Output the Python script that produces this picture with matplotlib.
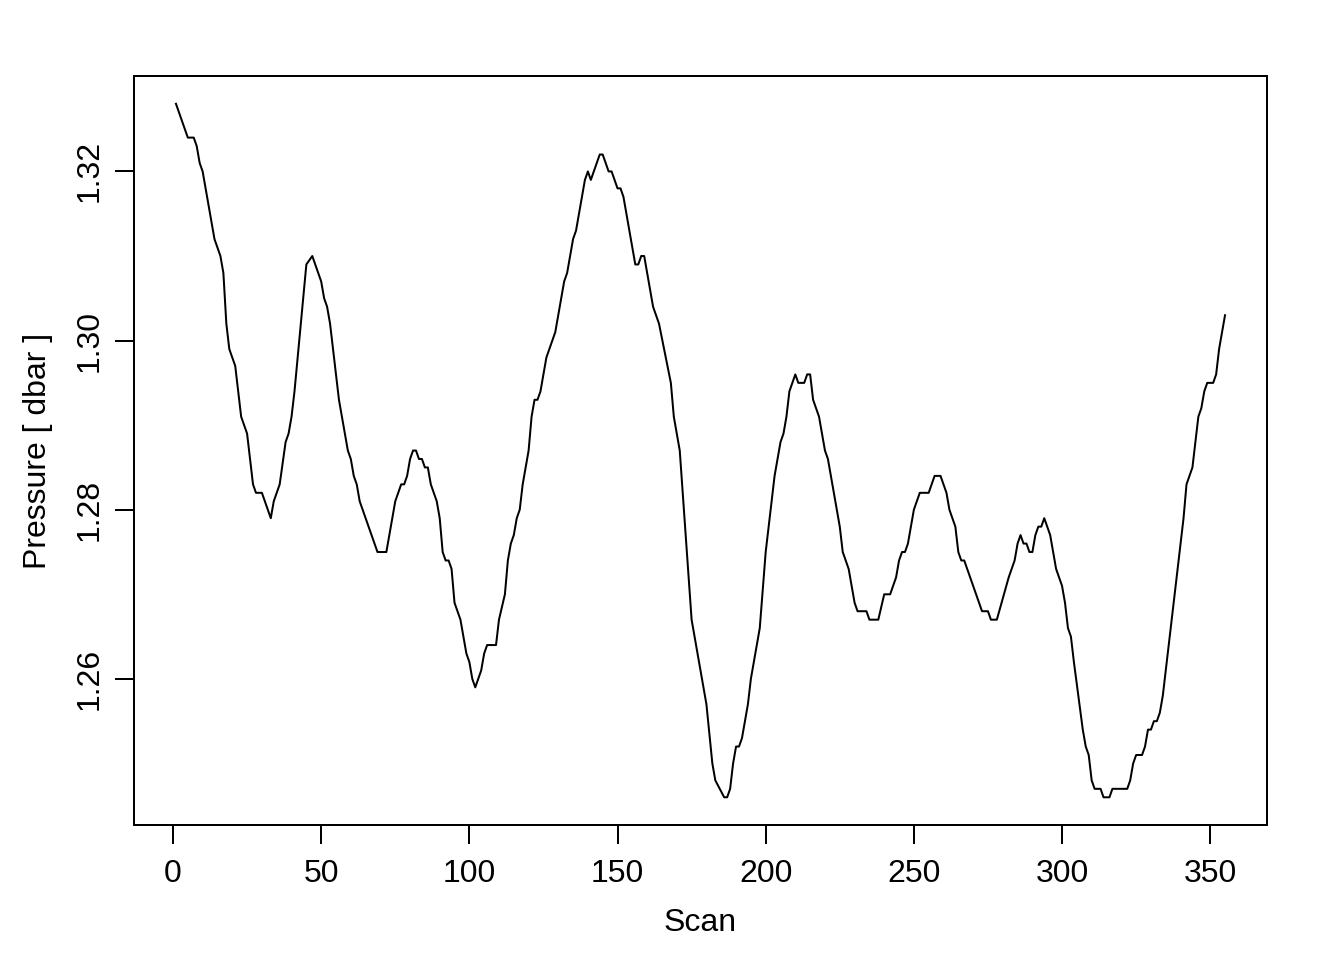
import matplotlib
matplotlib.use("Agg")
import matplotlib.pyplot as plt

# scan number and pressure (vertices of the line)
scan = [1, 5, 7, 8, 9, 10, 14, 16, 17, 18, 19, 21, 23, 25, 27, 28, 30, 33, 34, 36,
        38, 39, 40, 41, 45, 47, 50, 51, 52, 53, 56, 59, 60, 61, 62, 63, 69, 72, 75, 77,
        78, 79, 80, 81, 82, 83, 84, 85, 86, 87, 88, 89, 90, 91, 92, 93, 94, 95, 96, 97,
        99, 100, 101, 102, 104, 105, 106, 109, 110, 112, 113, 114, 115, 116, 117, 118, 120, 121, 122, 123,
        124, 126, 127, 129, 132, 133, 135, 136, 139, 140, 141, 144, 145, 147, 148, 150, 151, 152, 156, 157,
        158, 159, 162, 164, 168, 169, 171, 175, 177, 180, 182, 183, 186, 187, 188, 189, 190, 191, 192, 194,
        195, 198, 200, 201, 203, 205, 206, 207, 208, 210, 211, 213, 214, 215, 216, 217, 218, 220, 221, 225,
        226, 228, 230, 231, 234, 235, 238, 240, 242, 243, 244, 245, 246, 247, 248, 250, 252, 255, 257, 259,
        261, 262, 264, 265, 266, 267, 273, 275, 276, 278, 282, 284, 285, 286, 287, 288, 289, 290, 291, 292,
        293, 294, 295, 296, 298, 300, 301, 302, 303, 304, 307, 308, 309, 310, 311, 313, 314, 316, 317, 322,
        323, 324, 325, 327, 328, 329, 330, 331, 332, 333, 334, 335, 340, 341, 342, 344, 346, 347, 348, 349,
        351, 352, 353, 355]
pressure = [1.328, 1.324, 1.324, 1.323, 1.321, 1.320, 1.312, 1.310, 1.308, 1.302, 1.299, 1.297, 1.291, 1.289, 1.283, 1.282, 1.282, 1.279, 1.281, 1.283,
            1.288, 1.289, 1.291, 1.294, 1.309, 1.310, 1.307, 1.305, 1.304, 1.302, 1.293, 1.287, 1.286, 1.284, 1.283, 1.281, 1.275, 1.275, 1.281, 1.283,
            1.283, 1.284, 1.286, 1.287, 1.287, 1.286, 1.286, 1.285, 1.285, 1.283, 1.282, 1.281, 1.279, 1.275, 1.274, 1.274, 1.273, 1.269, 1.268, 1.267,
            1.263, 1.262, 1.260, 1.259, 1.261, 1.263, 1.264, 1.264, 1.267, 1.270, 1.274, 1.276, 1.277, 1.279, 1.280, 1.283, 1.287, 1.291, 1.293, 1.293,
            1.294, 1.298, 1.299, 1.301, 1.307, 1.308, 1.312, 1.313, 1.319, 1.320, 1.319, 1.322, 1.322, 1.320, 1.320, 1.318, 1.318, 1.317, 1.309, 1.309,
            1.310, 1.310, 1.304, 1.302, 1.295, 1.291, 1.287, 1.267, 1.263, 1.257, 1.250, 1.248, 1.246, 1.246, 1.247, 1.250, 1.252, 1.252, 1.253, 1.257,
            1.260, 1.266, 1.275, 1.278, 1.284, 1.288, 1.289, 1.291, 1.294, 1.296, 1.295, 1.295, 1.296, 1.296, 1.293, 1.292, 1.291, 1.287, 1.286, 1.278,
            1.275, 1.273, 1.269, 1.268, 1.268, 1.267, 1.267, 1.270, 1.270, 1.271, 1.272, 1.274, 1.275, 1.275, 1.276, 1.280, 1.282, 1.282, 1.284, 1.284,
            1.282, 1.280, 1.278, 1.275, 1.274, 1.274, 1.268, 1.268, 1.267, 1.267, 1.272, 1.274, 1.276, 1.277, 1.276, 1.276, 1.275, 1.275, 1.277, 1.278,
            1.278, 1.279, 1.278, 1.277, 1.273, 1.271, 1.269, 1.266, 1.265, 1.262, 1.254, 1.252, 1.251, 1.248, 1.247, 1.247, 1.246, 1.246, 1.247, 1.247,
            1.248, 1.250, 1.251, 1.251, 1.252, 1.254, 1.254, 1.255, 1.255, 1.256, 1.258, 1.261, 1.276, 1.279, 1.283, 1.285, 1.291, 1.292, 1.294, 1.295,
            1.295, 1.296, 1.299, 1.303]

x_ticks = [0, 50, 100, 150, 200, 250, 300, 350]
y_ticks = [1.26, 1.28, 1.30, 1.32]
y_tick_labels = ["1.26", "1.28", "1.30", "1.32"]

plt.rcParams['font.family'] = ['Liberation Sans', 'DejaVu Sans']
plt.rcParams['font.size'] = 12

fig = plt.figure(figsize=(7, 5), dpi=192)
ax = fig.add_axes([0.0997, 0.1406, 0.8430, 0.7802])

ax.plot(scan, pressure, color='black', linewidth=0.75)

# base-R style 4% padding around the data range
pad_x = 0.04 * (max(scan) - min(scan))
pad_y = 0.04 * (max(pressure) - min(pressure))
ax.set_xlim(min(scan) - pad_x, max(scan) + pad_x)
ax.set_ylim(min(pressure) - pad_y, max(pressure) + pad_y)

ax.set_xticks(x_ticks)
ax.set_yticks(y_ticks)
ax.set_yticklabels(y_tick_labels, rotation=90, va='center')

for side in ax.spines.values():
    side.set_linewidth(0.75)
    side.set_color('black')
ax.tick_params(direction='out', length=7.2, width=0.75, colors='black', labelsize=12)
ax.tick_params(axis='x', pad=5.5)
ax.tick_params(axis='y', pad=4)

ax.set_xlabel("Scan", fontsize=12, labelpad=7)
ax.set_ylabel("Pressure [ dbar ]", fontsize=12, labelpad=8)

fig.savefig("out.png", dpi=192)
